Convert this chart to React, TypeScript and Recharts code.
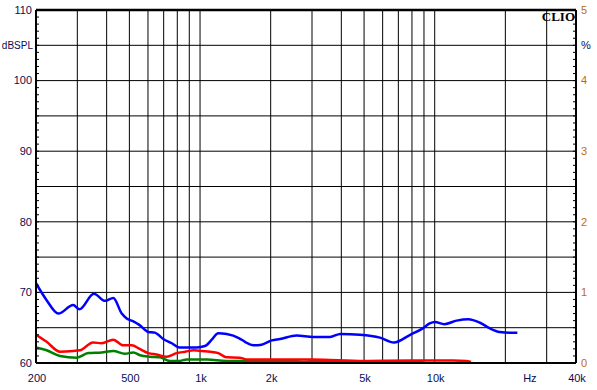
import React from 'react';
import { LineChart, Line, XAxis, YAxis, ReferenceLine } from 'recharts';

// ---- axis content ----
const xTicks = [200, 500, 1000, 2000, 5000, 10000, 25200, 40000];
const xTickLabels = ['200', '500', '1k', '2k', '5k', '10k', 'Hz', '40k'];
const xGrid = [300, 400, 500, 600, 700, 800, 900, 1000, 2000, 3000, 4000, 5000, 6000, 7000, 8000, 9000, 10000, 20000, 30000];
const yGrid = [65, 70, 75, 80, 85, 90, 95, 100, 105];
const leftLabelValues = [60, 70, 80, 90, 100, 105, 110];
const leftLabels = ['60', '70', '80', '90', '100', 'dBSPL', '110'];
const rightLabelValues = [0, 1, 2, 3, 4, 4.5, 5];
const rightLabels = ['0', '1', '2', '3', '4', '%', '5'];
const leftMinorTicks = Array.from({ length: 51 }, (_, i) => 60 + i);
const rightMinorTicks = Array.from({ length: 51 }, (_, i) => i / 10);

// ---- series ----
const blueFreq = [200, 222, 249, 288, 306, 353, 394, 427, 464, 487, 520, 551, 602, 642, 697, 758, 816, 968, 1050, 1122, 1196, 1298, 1470, 1554, 1686, 1830, 2020, 2190, 2580, 3040, 3580, 3960, 4800, 5840, 6700, 7860, 8900, 9520, 10020, 11000, 12400, 13900, 15600, 17200, 18900, 20900, 22500];
const blueDb = [71.3, 68.9, 67.0, 68.2, 67.6, 69.8, 68.8, 69.2, 67.0, 66.3, 65.9, 65.4, 64.4, 64.3, 63.4, 62.8, 62.2, 62.2, 62.4, 63.3, 64.2, 64.1, 63.5, 63.0, 62.5, 62.6, 63.2, 63.4, 63.9, 63.7, 63.7, 64.1, 64.0, 63.6, 62.9, 64.0, 64.9, 65.6, 65.8, 65.5, 66.0, 66.2, 65.7, 64.9, 64.4, 64.3, 64.3];

const redFreq = [200, 222, 253, 288, 308, 350, 381, 427, 470, 512, 553, 602, 651, 720, 795, 865, 940, 1020, 1104, 1196, 1298, 1470, 1600, 2000, 3000, 5000, 8000, 12000, 13600, 14280];
const redDb = [64.0, 63.0, 61.6, 61.7, 61.8, 62.9, 62.8, 63.3, 62.5, 62.5, 62.0, 61.4, 61.2, 60.9, 61.4, 61.6, 61.8, 61.7, 61.6, 61.4, 60.8, 60.75, 60.5, 60.5, 60.5, 60.3, 60.35, 60.35, 60.3, 60.15];

const greenFreq = [200, 222, 253, 298, 334, 381, 427, 478, 520, 555, 614, 675, 744, 821, 877, 1070, 1298, 2000, 2500, 2800, 3000, 4000, 6000, 8900];
const greenDb = [62.2, 61.8, 61.0, 60.75, 61.4, 61.5, 61.7, 61.3, 61.5, 61.1, 60.9, 60.8, 60.3, 60.3, 60.5, 60.5, 60.3, 60.3, 60.3, 60.15, 60.3, 60.15, 60.15, 60.15];

const toRows = (fs: number[], vs: number[]) => fs.map((f, i) => ({ f, v: vs[i] }));
const blueData = toRows(blueFreq, blueDb);
const redData = toRows(redFreq, redDb);
const greenData = toRows(greenFreq, greenDb);

const W = 597;
const H = 390;
const PLOT_L = 36;
const PLOT_R = 576;
const FONT = '"Liberation Sans", Arial, sans-serif';
const LEFT_COLOR = '#0c0c50';
const RIGHT_COLOR = '#c06a10';

const XTick = (props: any) => {
  const { x, payload } = props;
  const idx = xTicks.indexOf(payload.value);
  const label = idx >= 0 ? xTickLabels[idx] : '';
  return (
    <text x={x + 1} y={382} textAnchor="middle" fontFamily={FONT} fontSize={11} fill={LEFT_COLOR}>
      {label}
    </text>
  );
};

const LeftTick = (props: any) => {
  const { y, payload } = props;
  const idx = leftLabelValues.indexOf(payload.value);
  const isUnit = idx >= 0 && leftLabels[idx] === 'dBSPL';
  return (
    <g>
      <line x1={PLOT_L} x2={PLOT_L + 3} y1={y} y2={y} stroke="#000" strokeWidth={1} />
      {idx >= 0 && (
        <text x={isUnit ? 33 : 32} y={y} dy="0.35em" textAnchor="end" fontFamily={FONT}
          fontSize={isUnit ? 10 : 11} fill={LEFT_COLOR}>
          {leftLabels[idx]}
        </text>
      )}
    </g>
  );
};

const RightTick = (props: any) => {
  const { y, payload } = props;
  const v = Math.round(payload.value * 10) / 10;
  const idx = rightLabelValues.indexOf(v);
  return (
    <g>
      <line x1={PLOT_R - 3} x2={PLOT_R} y1={y} y2={y} stroke="#000" strokeWidth={1} />
      {idx >= 0 && (
        <text x={581} y={y} dy="0.35em" textAnchor="start" fontFamily={FONT} fontSize={11}
          fill={rightLabels[idx] === '%' ? LEFT_COLOR : RIGHT_COLOR}>
          {rightLabels[idx]}
        </text>
      )}
    </g>
  );
};

export default function App() {
  return (
    <div style={{ position: 'absolute', left: 0, top: 0, width: W, height: H, background: '#fff' }}>
      <LineChart width={W} height={H} margin={{ top: 10, right: 0, bottom: 0, left: 0 }}>
        <XAxis
          dataKey="f"
          type="number"
          scale="log"
          domain={[200, 40000]}
          allowDataOverflow
          ticks={xTicks}
          interval={0}
          height={27}
          tickSize={0}
          tickMargin={0}
          tickLine={false}
          axisLine={{ stroke: '#000', strokeWidth: 2 }}
          tick={<XTick />}
        />
        <YAxis
          yAxisId="l"
          type="number"
          domain={[60, 110]}
          allowDataOverflow
          ticks={leftMinorTicks}
          interval={0}
          width={36}
          tickSize={0}
          tickMargin={0}
          tickLine={false}
          axisLine={{ stroke: '#000', strokeWidth: 2 }}
          tick={<LeftTick />}
        />
        <YAxis
          yAxisId="r"
          orientation="right"
          type="number"
          domain={[0, 5]}
          allowDataOverflow
          ticks={rightMinorTicks}
          interval={0}
          width={21}
          tickSize={0}
          tickMargin={0}
          tickLine={false}
          axisLine={{ stroke: '#000', strokeWidth: 2 }}
          tick={<RightTick />}
        />
        {xGrid.map((f) => (
          <ReferenceLine key={'vx' + f} x={f} yAxisId="l" stroke="#000" strokeWidth={1} />
        ))}
        {yGrid.map((v) => (
          <ReferenceLine key={'hy' + v} y={v} yAxisId="l" stroke="#000" strokeWidth={1} />
        ))}
        <ReferenceLine y={110} yAxisId="l" stroke="#000" strokeWidth={2.5} />
        <Line data={greenData} dataKey="v" yAxisId="l" type="monotone" stroke="#008000" strokeWidth={2.5} dot={false} isAnimationActive={false} />
        <Line data={redData} dataKey="v" yAxisId="l" type="monotone" stroke="#ff0000" strokeWidth={2.5} dot={false} isAnimationActive={false} />
        <Line data={blueData} dataKey="v" yAxisId="l" type="monotone" stroke="#0000ff" strokeWidth={2.5} dot={false} isAnimationActive={false} />
      </LineChart>
      <svg width={W} height={H} style={{ position: 'absolute', left: 0, top: 0, pointerEvents: 'none' }}>
        <text x={575} y={21} textAnchor="end" fontFamily='"Liberation Serif", "Times New Roman", serif' fontWeight="bold" fontSize={13} fill="#000">
          CLIO
        </text>
      </svg>
    </div>
  );
}
